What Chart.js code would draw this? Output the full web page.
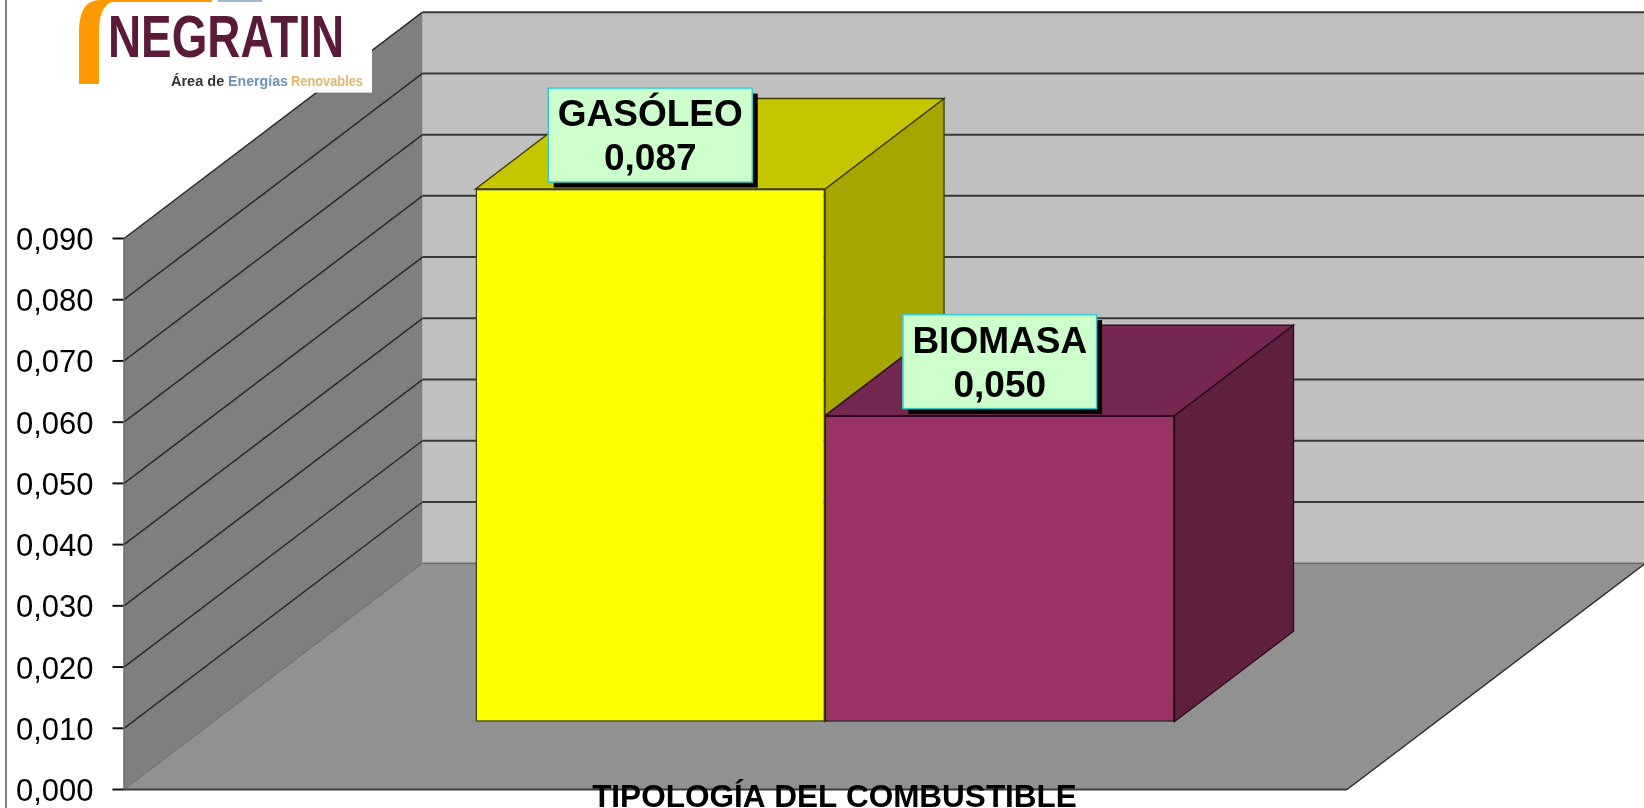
<!DOCTYPE html>
<html lang="es">
<head>
<meta charset="utf-8">
<title>Tipología del combustible</title>
<script src="https://cdn.jsdelivr.net/npm/chart.js@4"></script>
<style>
  html, body { margin: 0; padding: 0; background: #fff; }
  canvas { display: block; }
</style>
</head>
<body>
<canvas id="myChart" width="1644" height="808"></canvas>
<script>
const categories = ["TIPOLOGÍA DEL COMBUSTIBLE"];
const seriesNames = ["GASÓLEO", "BIOMASA"];
const seriesLabels = ["0,087", "0,050"];
const gasoleoValues = [0.087];
const biomasaValues = [0.05];
const tickLabels = ["0,000", "0,010", "0,020", "0,030", "0,040", "0,050", "0,060", "0,070", "0,080", "0,090"];

// full depth of the floor and how far back the bars stand on it
const depth = { x: 298.5, y: -226.3 };
const barOffset = { x: 89.5, y: -67.8 };
const barDepth = { x: 119, y: -90.5 };

const faceColors = [
  { top: "#C6C600", side: "#A6A600", edge: "#3d3d00" },
  { top: "#76274F", side: "#5F2040", edge: "#2a0d1c" },
];

function poly(ctx, pts, fill, stroke, lw) {
  ctx.beginPath();
  pts.forEach((p, i) => (i ? ctx.lineTo(p[0], p[1]) : ctx.moveTo(p[0], p[1])));
  ctx.closePath();
  if (fill) {
    ctx.fillStyle = fill;
    ctx.fill();
  }
  if (stroke) {
    ctx.strokeStyle = stroke;
    ctx.lineWidth = lw || 1;
    ctx.stroke();
  }
}

function line(ctx, x1, y1, x2, y2, color, lw) {
  ctx.beginPath();
  ctx.moveTo(x1, y1);
  ctx.lineTo(x2, y2);
  ctx.strokeStyle = color;
  ctx.lineWidth = lw;
  ctx.stroke();
}

// walls and floor behind everything
const roomPlugin = {
  id: "room",
  beforeDraw(chart) {
    const ctx = chart.ctx;
    const yScale = chart.scales.y;
    const left = chart.chartArea.left;
    const right = chart.chartArea.right;
    const y0 = yScale.getPixelForValue(0);
    const yMax = yScale.getPixelForValue(yScale.max);

    ctx.save();
    line(ctx, 6, 0, 6, 808, "#808080", 2);

    poly(ctx, [[left + depth.x, yMax + depth.y], [right + depth.x, yMax + depth.y], [right + depth.x, y0 + depth.y], [left + depth.x, y0 + depth.y]], "#C0C0C0");
    poly(ctx, [[left, yMax], [left + depth.x, yMax + depth.y], [left + depth.x, y0 + depth.y], [left, y0]], "#7F7F7F");
    poly(ctx, [[left, y0], [right, y0], [right + depth.x, y0 + depth.y], [left + depth.x, y0 + depth.y]], "#919191");

    yScale.ticks.forEach((t) => {
      const y = yScale.getPixelForValue(t.value);
      line(ctx, left - 11.5, y, left, y, "#111", 2);
      if (t.value > 0) {
        line(ctx, left + depth.x, y + depth.y, right + depth.x, y + depth.y, "#383838", 2);
        line(ctx, left, y, left + depth.x, y + depth.y, "#2b2b2b", 1.5);
      }
    });
    line(ctx, left, y0, left + depth.x, y0 + depth.y, "#666", 1);
    line(ctx, left + depth.x, y0 + depth.y, right + depth.x, y0 + depth.y, "#6a6a6a", 1.5);
    line(ctx, left, y0, left, yMax, "#6a6a6a", 1.5);
    line(ctx, left, y0, right, y0, "#3c3c3c", 2);
    line(ctx, right, y0, right + depth.x, y0 + depth.y, "#2b2b2b", 1.5);
    ctx.restore();
  },

  // bars stand further back than the axis plane, side and top faces go first
  beforeDatasetsDraw(chart) {
    const ctx = chart.ctx;
    ctx.save();
    ctx.translate(barOffset.x, barOffset.y);
    chart.data.datasets.forEach((ds, i) => {
      const bar = chart.getDatasetMeta(i).data[0];
      const l = bar.x - bar.width / 2;
      const r = bar.x + bar.width / 2;
      const c = faceColors[i];
      poly(ctx, [[r, bar.y], [r + barDepth.x, bar.y + barDepth.y], [r + barDepth.x, bar.base + barDepth.y], [r, bar.base]], c.side, c.edge, 1.4);
      poly(ctx, [[l, bar.y], [l + barDepth.x, bar.y + barDepth.y], [r + barDepth.x, bar.y + barDepth.y], [r, bar.y]], c.top, c.edge, 1.4);
    });
  },

  afterDatasetsDraw(chart) {
    const ctx = chart.ctx;
    ctx.restore();

    // value labels
    ctx.save();
    ctx.font = "bold 37px 'Liberation Sans'";
    ctx.textAlign = "center";
    ctx.textBaseline = "alphabetic";
    chart.data.datasets.forEach((ds, i) => {
      const bar = chart.getDatasetMeta(i).data[0];
      const cx = bar.x + barOffset.x;
      const bottom = bar.y + barOffset.y - 7;
      const w = ctx.measureText(seriesNames[i]).width + 19;
      const h = 94;
      ctx.fillStyle = "#000";
      ctx.fillRect(cx - w / 2 + 5.5, bottom - h + 5.5, w, h);
      ctx.fillStyle = "#CCFFCC";
      ctx.fillRect(cx - w / 2, bottom - h, w, h);
      ctx.strokeStyle = "#33CCCC";
      ctx.lineWidth = 1.5;
      ctx.strokeRect(cx - w / 2, bottom - h, w, h);
      ctx.fillStyle = "#000";
      ctx.fillText(seriesNames[i], cx, bottom - 56);
      ctx.fillText(seriesLabels[i], cx, bottom - 12);
    });

    // the scale clips its own labels to the axis box, this one sits over the floor edge
    ctx.font = "bold 31.5px 'Liberation Sans'";
    ctx.fillText(categories[0], chart.scales.x.getPixelForTick(0) + 99, chart.chartArea.bottom + 17.5);
    ctx.restore();
  },

  // logo pasted over the corner
  afterDraw(chart) {
    const ctx = chart.ctx;
    ctx.save();
    ctx.fillStyle = "#fff";
    ctx.fillRect(70, 0, 302, 92.6);

    ctx.beginPath();
    ctx.moveTo(79, 84);
    ctx.lineTo(79, 32);
    ctx.quadraticCurveTo(79, 0, 100, 0);
    ctx.lineTo(212, 0);
    ctx.lineTo(212, 2);
    ctx.lineTo(112, 2);
    ctx.quadraticCurveTo(99, 6, 99, 32);
    ctx.lineTo(99, 84);
    ctx.closePath();
    ctx.fillStyle = "#FF9900";
    ctx.fill();
    ctx.fillStyle = "#9db7cf";
    ctx.fillRect(218, 0, 44, 2);

    ctx.textBaseline = "alphabetic";
    ctx.textAlign = "left";
    ctx.font = "bold 60px 'Liberation Sans'";
    ctx.fillStyle = "#5A1A3A";
    ctx.fillText("NEGRATIN", 108, 57, 236);

    ctx.font = "bold 14.5px 'Liberation Sans'";
    ctx.fillStyle = "#333";
    ctx.fillText("Área de", 171, 86);
    ctx.fillStyle = "#6D93B8";
    ctx.fillText("Energías", 228, 86, 60);
    ctx.fillStyle = "#E3B56A";
    ctx.fillText("Renovables", 291, 86, 72);
    ctx.restore();
  },
};

new Chart(document.getElementById("myChart").getContext("2d"), {
  type: "bar",
  data: {
    labels: categories,
    datasets: [
      { label: seriesNames[0], data: gasoleoValues, backgroundColor: "#FFFF00", borderColor: "#3d3d00", borderWidth: 1.5, borderSkipped: false, clip: false },
      { label: seriesNames[1], data: biomasaValues, backgroundColor: "#993366", borderColor: "#2a0d1c", borderWidth: 1.5, borderSkipped: false, clip: false },
    ],
  },
  plugins: [roomPlugin],
  options: {
    responsive: false,
    animation: false,
    layout: { padding: { top: 238.5, right: 297, left: 0, bottom: 0 } },
    plugins: { legend: { display: false }, tooltip: { enabled: false } },
    datasets: { bar: { categoryPercentage: 0.5715, barPercentage: 1 } },
    scales: {
      x: {
        afterFit(scale) {
          scale.height = 18.5;
          scale.paddingLeft = 0;
          scale.paddingRight = 0;
        },
        grid: { display: false },
        border: { display: false },
        ticks: { display: false },
      },
      y: {
        min: 0,
        max: 0.09,
        afterFit(scale) {
          scale.width = 124;
          scale.paddingTop = 0;
          scale.paddingBottom = 0;
        },
        grid: { display: false, tickLength: 11.5 },
        border: { display: false },
        ticks: {
          stepSize: 0.01,
          padding: 19,
          labelOffset: 3,
          color: "#000",
          font: { family: "'Liberation Sans'", size: 31 },
          callback: (value, index) => tickLabels[index],
        },
      },
    },
  },
});
</script>
</body>
</html>
